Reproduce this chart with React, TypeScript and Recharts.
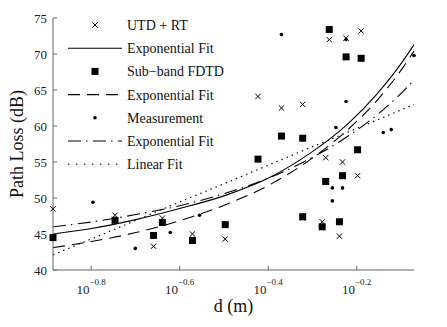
import { ComposedChart, Scatter, Line, XAxis, YAxis, Legend } from 'recharts'

// UTD + RT and sub-band FDTD share the same positions
const utdD = [0.13, 0.1795, 0.2193, 0.2296, 0.2685, 0.3184, 0.3776, 0.4266, 0.4764, 0.4764, 0.5272, 0.537, 0.547, 0.5768, 0.5861, 0.597, 0.6339, 0.6457]
const utdPL = [48.5, 47.6, 43.3, 47.2, 45.0, 44.3, 64.1, 62.5, 63.0, 47.2, 46.7, 55.6, 72.0, 44.7, 55.0, 72.2, 53.1, 73.2]
const fdtdD = [0.13, 0.1795, 0.2193, 0.2296, 0.2685, 0.3184, 0.3776, 0.4266, 0.4764, 0.4764, 0.5272, 0.537, 0.547, 0.5768, 0.5861, 0.597, 0.6339, 0.6457]
const fdtdPL = [44.5, 46.9, 44.8, 46.6, 44.1, 46.3, 55.4, 58.6, 58.3, 47.4, 46.0, 52.3, 73.4, 46.7, 53.1, 69.6, 56.7, 69.4]
const measD = [0.16, 0.1995, 0.2393, 0.2786, 0.4266, 0.5559, 0.5559, 0.5662, 0.5861, 0.597, 0.597, 0.7244, 0.7551, 0.85]
const measPL = [49.4, 43.0, 45.2, 47.6, 72.7, 51.4, 49.6, 59.8, 51.4, 63.4, 72.0, 59.1, 59.5, 69.8]

// fit curves
const fitD = [0.13, 0.16, 0.2, 0.25, 0.32, 0.4, 0.5, 0.6, 0.7, 0.8, 0.85]
const utdFit = [45.0, 45.8, 47.0, 48.5, 50.4, 52.8, 56.4, 60.2, 64.4, 68.9, 71.3]
const fdtdFit = [43.1, 44.0, 45.2, 46.8, 49.1, 51.8, 55.5, 59.4, 63.5, 68.0, 70.4]
const measFit = [46.0, 46.7, 47.7, 48.9, 50.7, 52.8, 55.6, 58.5, 61.5, 64.7, 66.4]
const linFit = [42.1, 44.4, 46.9, 49.4, 52.1, 54.6, 57.1, 59.1, 60.8, 62.3, 63.0]

const xTicks = [-0.8, -0.6, -0.4, -0.2]
const yTicks = [40, 45, 50, 55, 60, 65, 70, 75]

const zip = (d: number[], v: number[]) => d.map((x, i) => ({ d: x, pl: v[i] }))

const FONT = '"Liberation Serif", "Times New Roman", serif'
const AXIS = '#666'

const Cross = (p: any) => (
    <path
        d={`M${p.cx - 2.7},${p.cy - 2.7}L${p.cx + 2.7},${p.cy + 2.7}M${p.cx - 2.7},${p.cy + 2.7}L${p.cx + 2.7},${p.cy - 2.7}`}
        stroke="#000"
        strokeWidth={1}
    />
)
const Square = (p: any) => <rect x={p.cx - 3.5} y={p.cy - 3.5} width={7} height={7} fill="#000" />
const Dot = (p: any) => <circle cx={p.cx} cy={p.cy} r={1.8} fill="#000" />

const XTick = (p: any) => {
    const exp = Math.log10(p.payload.value).toFixed(1).replace('-', '\u2212')
    return (
        <text x={p.x} y={294} textAnchor="middle" fontFamily={FONT} fontSize={13} fill="#222">
            10
            <tspan fontSize={9} dy={-9}>{exp}</tspan>
        </text>
    )
}

const legendRows = [
    { label: 'UTD + RT', kind: 'cross' },
    { label: 'Exponential Fit', kind: 'line', dash: undefined },
    { label: 'Sub\u2212band FDTD', kind: 'square' },
    { label: 'Exponential Fit', kind: 'line', dash: '12 7' },
    { label: 'Measurement', kind: 'dot' },
    { label: 'Exponential Fit', kind: 'line', dash: '13 5 1.5 5.5' },
    { label: 'Linear Fit', kind: 'line', dash: '1.5 6.5' },
]

function LegendBox() {
    return (
        <svg width={200} height={165}>
            {legendRows.map((r, i) => {
                const cy = 13 + i * 23.2
                let mark = null
                if (r.kind === 'cross') mark = <Cross cx={35} cy={cy} />
                else if (r.kind === 'square') mark = <Square cx={35} cy={cy} />
                else if (r.kind === 'dot') mark = <Dot cx={35} cy={cy} />
                else mark = <line x1={8} x2={62} y1={cy} y2={cy} stroke="#000" strokeWidth={1.1} strokeDasharray={r.dash} />
                return (
                    <g key={i}>
                        {mark}
                        <text x={67} y={cy + 5} fontFamily={FONT} fontSize={14} fill="#111">{r.label}</text>
                    </g>
                )
            })}
        </svg>
    )
}

export default function App() {
    return (
        <div style={{ position: 'absolute', left: 0, top: 0, background: '#fff' }}>
            <ComposedChart width={447} height={327} margin={{ top: 18, right: 33, left: 8, bottom: 27 }}>
                <XAxis
                    dataKey="d"
                    type="number"
                    scale="log"
                    domain={[0.13, 0.85]}
                    ticks={xTicks.map(t => Math.pow(10, t))}
                    interval={0}
                    tick={<XTick />}
                    tickSize={-4}
                    height={30}
                    stroke={AXIS}
                    label={{
                        content: (p: any) => (
                            <text x={p.viewBox.x + p.viewBox.width / 2} y={312} textAnchor="middle" fontFamily={FONT} fontSize={18} fill="#111">
                                d (m)
                            </text>
                        ),
                    }}
                />
                <YAxis
                    dataKey="pl"
                    type="number"
                    domain={[40, 75]}
                    ticks={yTicks}
                    interval={0}
                    width={45}
                    tickSize={-4}
                    tickMargin={10}
                    stroke={AXIS}
                    tick={{ fontFamily: FONT, fontSize: 13, fill: '#222' }}
                    label={{
                        content: (p: any) => {
                            const cy = p.viewBox.y + p.viewBox.height / 2
                            return (
                                <text x={23} y={cy} transform={`rotate(-90 23 ${cy})`} textAnchor="middle" fontFamily={FONT} fontSize={18} fill="#111">
                                    Path Loss (dB)
                                </text>
                            )
                        },
                    }}
                />
                <Legend
                    layout="horizontal"
                    verticalAlign="middle"
                    align="center"
                    content={() => <LegendBox />}
                    wrapperStyle={{ left: 60, top: 12, width: 200, height: 165 }}
                />
                <Scatter data={zip(utdD, utdPL)} shape={<Cross />} isAnimationActive={false} />
                <Line data={zip(fitD, utdFit)} dataKey="pl" type="monotone" stroke="#000" strokeWidth={1.1} dot={false} isAnimationActive={false} />
                <Scatter data={zip(fdtdD, fdtdPL)} shape={<Square />} isAnimationActive={false} />
                <Line data={zip(fitD, fdtdFit)} dataKey="pl" type="monotone" stroke="#000" strokeWidth={1.1} strokeDasharray="12 7" dot={false} isAnimationActive={false} />
                <Scatter data={zip(measD, measPL)} shape={<Dot />} isAnimationActive={false} />
                <Line data={zip(fitD, measFit)} dataKey="pl" type="monotone" stroke="#000" strokeWidth={1.1} strokeDasharray="13 5 1.5 5.5" dot={false} isAnimationActive={false} />
                <Line data={zip(fitD, linFit)} dataKey="pl" type="linear" stroke="#000" strokeWidth={1.1} strokeDasharray="1.5 4" dot={false} isAnimationActive={false} />
            </ComposedChart>
        </div>
    )
}
